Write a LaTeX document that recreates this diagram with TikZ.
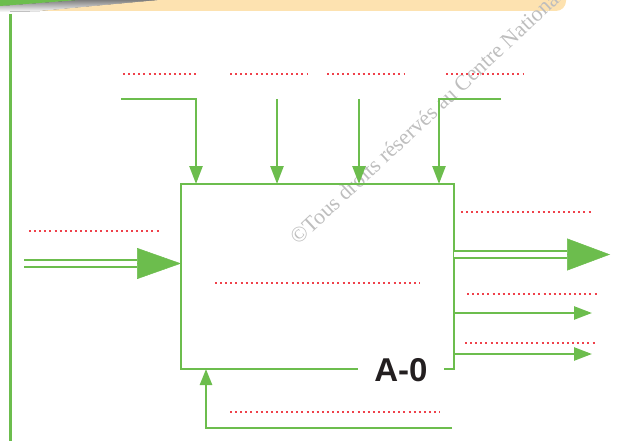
\documentclass[tikz,border=0pt]{standalone}
\usepackage{fontspec}
\setmainfont{Liberation Serif}
\newfontfamily\headfont{Liberation Sans}
\usetikzlibrary{arrows.meta,calc}
\definecolor{grn}{RGB}{108,189,77}
\definecolor{dotred}{RGB}{239,65,75}
\definecolor{band}{RGB}{253,226,176}
\definecolor{mark}{RGB}{190,190,190}
\definecolor{ink}{RGB}{35,31,32}
\definecolor{shade}{RGB}{246,246,246}
\begin{document}
\begin{tikzpicture}[x=1pt,y=-1pt,
  flow/.style={draw=grn,line width=2.5pt},
  twin/.style={draw=grn,line width=2.5pt,double=white,double distance=4.5pt},
  tipsmall/.style={-{Triangle[length=18pt,width=13pt]}},
  tipback/.style={-{Triangle[length=16pt,width=12pt]}},
  tipbig/.style={draw=grn,line width=0.5pt,-{Triangle[length=#1]}},
  blank/.style={draw=dotred,line width=2pt,dash pattern=on 2pt off 3.1pt},
]
\useasboundingbox (0,0) rectangle (642,441);
\clip (0,0) rectangle (642,441);

% page header band
\fill[shade] (0,6) -- (78,0) -- (160,0) -- (40,11) -- (0,12) -- cycle;
\fill[band] (40,11) -- (160,0) -- (566,0) -- (566,1)
  .. controls (566,6.5) and (561.5,11) .. (556,11) -- cycle;
\fill[grn] (0,0) -- (78,0) -- (0,6) -- cycle;
\draw[grn,line width=3pt] (10,14) -- (10,441);

% watermark
\node[rotate=43,anchor=base west,inner sep=0,text=mark,
      font=\fontsize{22}{22}\selectfont] (wm) at (298,246)
  {©Tous droits réservés au Centre National};

% activity box
\node[minimum width=273pt,minimum height=185pt,inner sep=0,outer sep=0]
  (box) at (317.5,276.5) {};
\draw[flow] (box.south west) rectangle (box.north east);
\node[fill=white,inner xsep=16.5pt,inner ysep=2pt,text=ink,
      font=\headfont\bfseries\fontsize{33}{33}\selectfont]
  (tag) at (401,370) {A-0};

% controls from above
\coordinate (s1) at (121,99);  \coordinate (k1) at (196,99);
\coordinate (s2) at (277,99);
\coordinate (s3) at (359,99);
\coordinate (s4) at (501,99);  \coordinate (k4) at (439,99);
\draw[flow,tipsmall] (s1) -- (k1) -- (k1 |- box.north);
\draw[flow,tipsmall] (s2) -- (s2 |- box.north);
\draw[flow,tipsmall] (s3) -- (s3 |- box.north);
\draw[flow,tipsmall] (s4) -- (k4) -- (k4 |- box.north);

% main input
\coordinate (inL) at (24,263.5);
\draw[twin] (inL) -- ($(inL -| box.west)+(-44,0)$);
\draw[tipbig={44pt,width=31pt}] ($(inL -| box.west)+(-44,0)$) -- (inL -| box.west);

% outputs
\coordinate (o1) at (567,254.5);
\coordinate (o1e) at (610,254.5);
\draw[twin] (o1 -| box.east) -- (o1);
\draw[tipbig={43pt,width=32pt}] (o1) -- (o1e);
\coordinate (o2) at (592,313);
\coordinate (o3) at (592,354);
\draw[flow,tipsmall] (o2 -| box.east) -- (o2);
\draw[flow,tipsmall] (o3 -| box.east) -- (o3);

% mechanism from below
\coordinate (m0) at (452,428);
\coordinate (m1) at (206,428);
\draw[flow,tipback] (m0) -- (m1) -- (m1 |- box.south);

% blanks to fill in
\draw[blank] (123,74) -- (199,74);
\draw[blank] (230,74) -- (307,74);
\draw[blank] (327,74) -- (404,74);
\draw[blank] (446,74) -- (523,74);
\draw[blank] (29,231) -- (159,231);
\draw[blank] (215,283) -- (420,283);
\draw[blank] (461,212) -- (591,212);
\draw[blank] (467,294) -- (597,294);
\draw[blank] (465,343) -- (597,343);
\draw[blank] (230,412) -- (440,412);
\end{tikzpicture}
\end{document}
